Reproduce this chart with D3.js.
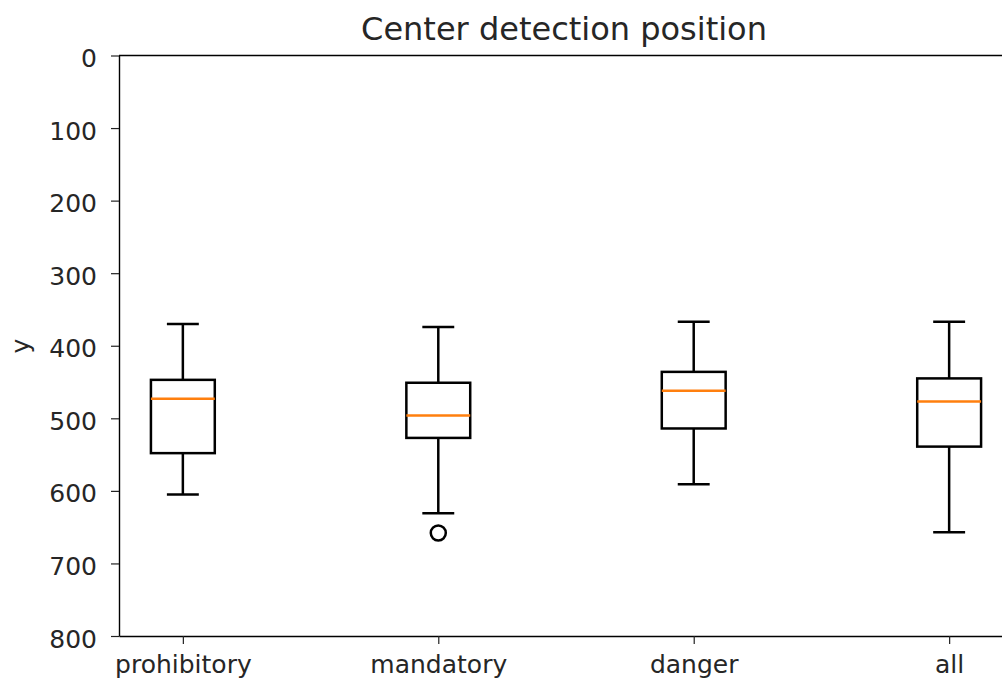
<!DOCTYPE html>
<html>
<head>
<meta charset="utf-8">
<script src="https://cdn.jsdelivr.net/npm/d3@7"></script>
<style>
  body { margin: 0; background: #fff; }
  text { font-family: "DejaVu Sans", sans-serif; fill: #262626; }
</style>
</head>
<body>
<script>
// box plot stats (y is inverted: 0 on top)
var categories = ["prohibitory", "mandatory", "danger", "all"]
var whiskerLow  = [370, 374, 367, 367]
var q1          = [447, 451, 436, 445]
var medians     = [473, 496, 462, 477]
var q3          = [548, 527, 514, 539]
var whiskerHigh = [605, 631, 591, 657]
var outliers    = [[], [658], [], []]
var yTicks = [0, 100, 200, 300, 400, 500, 600, 700, 800]

var svg = d3.select("body").append("svg")
  .attr("width", 1002)
  .attr("height", 684)

var x = d3.scaleLinear().domain([0.75, 4.25]).range([119, 1013])
var y = d3.scaleLinear().domain([0, 800]).range([55.5, 636])
var boxW = x(1.25) - x(1)

// axes
var xAxis = d3.axisBottom(x)
  .tickValues([1, 2, 3, 4])
  .tickFormat(function(d){ return categories[d - 1] })
  .tickSizeInner(8).tickSizeOuter(0).tickPadding(11)
var yAxis = d3.axisLeft(y).tickValues(yTicks).tickSizeInner(8).tickSizeOuter(0).tickPadding(14)

function styleAxis(g){
  g.attr("font-family", null).attr("font-size", null)
  g.select(".domain").attr("stroke", "#000").attr("stroke-width", 1.4)
  g.selectAll(".tick line").attr("stroke", "#222").attr("stroke-width", 1.2)
  g.selectAll("text").style("font-size", "25px").attr("fill", "#262626")
}

svg.append("g")
  .attr("transform", "translate(0,636)")
  .call(xAxis)
  .call(styleAxis)

svg.append("g")
  .attr("transform", "translate(119,0)")
  .call(yAxis)
  .call(styleAxis)
  .call(function(g){ g.selectAll("text").attr("dy", "0.44em") })

// top spine
svg.append("line")
  .attr("x1", x(0.75)).attr("x2", x(4.25))
  .attr("y1", y(0)).attr("y2", y(0))
  .attr("stroke", "#000").attr("stroke-width", 1.4)

// boxes
var data = categories.map(function(c, i){
  return { name: c, pos: i + 1, lo: whiskerLow[i], q1: q1[i], med: medians[i], q3: q3[i], hi: whiskerHigh[i], out: outliers[i] }
})

var g = svg.selectAll(".box").data(data).enter().append("g").attr("class", "box")

g.append("line")
  .attr("x1", function(d){ return x(d.pos) }).attr("x2", function(d){ return x(d.pos) })
  .attr("y1", function(d){ return y(d.lo) }).attr("y2", function(d){ return y(d.q1) })
  .attr("stroke", "#000").attr("stroke-width", 2.5)
g.append("line")
  .attr("x1", function(d){ return x(d.pos) }).attr("x2", function(d){ return x(d.pos) })
  .attr("y1", function(d){ return y(d.q3) }).attr("y2", function(d){ return y(d.hi) })
  .attr("stroke", "#000").attr("stroke-width", 2.5)
// caps
g.append("line")
  .attr("x1", function(d){ return x(d.pos) - boxW / 4 }).attr("x2", function(d){ return x(d.pos) + boxW / 4 })
  .attr("y1", function(d){ return y(d.lo) }).attr("y2", function(d){ return y(d.lo) })
  .attr("stroke", "#000").attr("stroke-width", 2.5)
g.append("line")
  .attr("x1", function(d){ return x(d.pos) - boxW / 4 }).attr("x2", function(d){ return x(d.pos) + boxW / 4 })
  .attr("y1", function(d){ return y(d.hi) }).attr("y2", function(d){ return y(d.hi) })
  .attr("stroke", "#000").attr("stroke-width", 2.5)

g.append("rect")
  .attr("x", function(d){ return x(d.pos) - boxW / 2 })
  .attr("y", function(d){ return y(d.q1) })
  .attr("width", boxW)
  .attr("height", function(d){ return y(d.q3) - y(d.q1) })
  .attr("fill", "none").attr("stroke", "#000").attr("stroke-width", 2.5)

g.append("line")
  .attr("x1", function(d){ return x(d.pos) - boxW / 2 }).attr("x2", function(d){ return x(d.pos) + boxW / 2 })
  .attr("y1", function(d){ return y(d.med) }).attr("y2", function(d){ return y(d.med) })
  .attr("stroke", "#ff7f0e").attr("stroke-width", 2.5)

g.selectAll("circle").data(function(d){ return d.out.map(function(v){ return { pos: d.pos, v: v } }) })
  .enter().append("circle")
  .attr("cx", function(d){ return x(d.pos) })
  .attr("cy", function(d){ return y(d.v) })
  .attr("r", 7.5)
  .attr("fill", "none").attr("stroke", "#000").attr("stroke-width", 2.5)

// title and y label
svg.append("text")
  .attr("x", x(2.5) - 2).attr("y", 39.5)
  .attr("text-anchor", "middle")
  .style("font-size", "32px")
  .text("Center detection position")

svg.append("text")
  .attr("transform", "translate(29,346) rotate(-90)")
  .attr("text-anchor", "middle")
  .style("font-size", "25px")
  .text("y")
</script>
</body>
</html>
